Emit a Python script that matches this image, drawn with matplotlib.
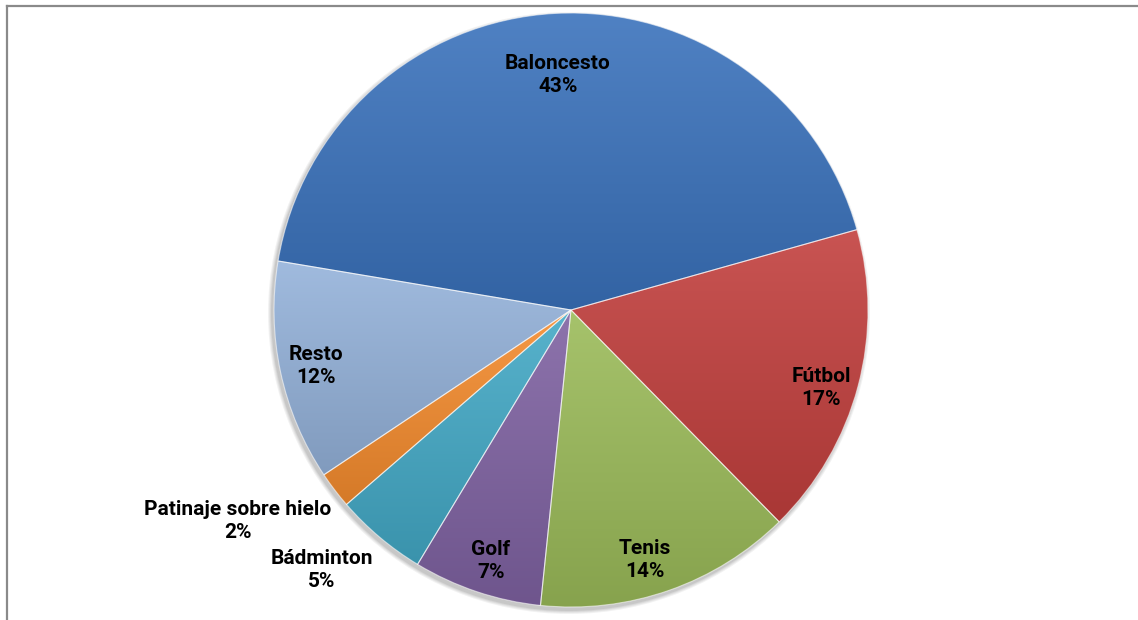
import numpy as np
import matplotlib
matplotlib.use('Agg')
import matplotlib.pyplot as plt
from matplotlib.colors import to_rgb
from matplotlib.lines import Line2D
from matplotlib.patches import Circle

# ---- data ----
categories = ['Baloncesto', 'Fútbol', 'Tenis', 'Golf', 'Bádminton',
              'Patinaje sobre hielo', 'Resto']
values = [43, 17, 14, 7, 5, 2, 12]
colors = ['#3A72BC', '#C23F3D', '#9BBB59', '#7F62A2', '#43A9C6', '#F58C2E', '#94B2DA']

# label centres in pixel coordinates (x, y from top)
label_px = [(558, 75), (821, 388), (645, 560), (491, 561),
            (322, 570), (238, 521), (316, 366)]

W, H = 1138, 620
fig = plt.figure(figsize=(W / 100, H / 100), dpi=100)
ax = fig.add_axes([0, 0, 1, 1])

cx, cy, R = 571, H - 310, 297

# soft shadow
for i, a in enumerate([0.05, 0.05, 0.06, 0.07]):
    ax.add_patch(Circle((cx - 2, cy - 3), R + 4 - i, color='black', alpha=a,
                        lw=0, zorder=0.5))

wedges, _ = ax.pie(values, startangle=170.5, counterclock=False,
                   center=(cx, cy), radius=R, colors=colors,
                   wedgeprops=dict(edgecolor=(1, 1, 1, 0.55), linewidth=0.8))


def mix(c, other, t):
    c = np.array(to_rgb(c)); o = np.array(to_rgb(other))
    return c * (1 - t) + o * t


for w, c in zip(wedges, colors):
    bb = w.get_path().get_extents(w.get_patch_transform())
    top = mix(c, 'white', 0.11)
    bot = mix(c, 'black', 0.13)
    n = 256
    t = np.linspace(0, 1, n)[:, None]
    grad = bot[None, :] * (1 - t) + top[None, :] * t
    img = np.concatenate([grad, np.ones((n, 1))], axis=1)[:, None, :]
    im = ax.imshow(img, extent=(bb.x0, bb.x1, bb.y0, bb.y1), origin='lower',
                   aspect='auto', zorder=2, interpolation='bilinear')
    im.set_clip_path(w)
    w.set_facecolor('none')
    w.set_zorder(3)

ax.set_xlim(0, W)
ax.set_ylim(0, H)
ax.set_aspect('equal')
ax.axis('off')

fam = ['Roboto', 'Liberation Sans', 'DejaVu Sans']
for name, v, (px, py) in zip(categories, values, label_px):
    ax.text(px, H - py, f'{name}\n{v}%', ha='center', va='center',
            multialignment='center', fontsize=15, fontweight='bold',
            family=fam, color='black', zorder=5, linespacing=1.32)

# chart-area border (top and left visible)
fig.add_artist(Line2D([6.5 / W, 1], [1 - 5.5 / H, 1 - 5.5 / H],
                      transform=fig.transFigure, color='#8a8a8a', lw=1.6))
fig.add_artist(Line2D([6.5 / W, 6.5 / W], [0, 1 - 5.5 / H],
                      transform=fig.transFigure, color='#8a8a8a', lw=1.6))

fig.savefig('out.png', dpi=100)
